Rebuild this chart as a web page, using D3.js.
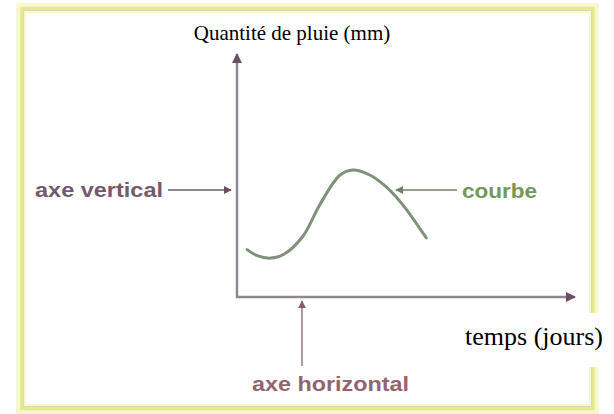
<!DOCTYPE html>
<html>
<head>
<meta charset="utf-8">
<script src="https://cdn.jsdelivr.net/npm/d3@7"></script>
<style>
  body { margin: 0; background: #fff; }
</style>
</head>
<body>
<div id="viz"></div>
<script>
// sizes
var width = 614;
var height = 414;

// the curve (days, rain in mm), no units on the axes
var days = [3, 6, 10, 14, 19.5, 24.5, 30.5, 34.3, 39.3, 44.4, 49, 56];
var rain = [19.5, 17, 16, 17.7, 25, 38, 50.2, 52.3, 50.2, 45, 38, 24.3];

var yTitle = "Quantité de pluie (mm)";
var xTitle = "temps (jours)";
var labels = ["axe vertical", "courbe", "axe horizontal"];

var serif = '"Liberation Serif", "Times New Roman", serif';
var sans = '"Liberation Sans", Arial, sans-serif';

var svg = d3.select("#viz")
    .append("svg")
    .attr("width", width)
    .attr("height", height);

// yellow frame
svg.append("rect")
    .attr("x", 21).attr("y", 8).attr("width", 573).attr("height", 401)
    .attr("fill", "none").attr("stroke", "#f7f8d2").attr("stroke-width", 10);
svg.append("rect")
    .attr("x", 22).attr("y", 8.5).attr("width", 571).attr("height", 400)
    .attr("fill", "none").attr("stroke", "#e6ea8a").attr("stroke-width", 3.5);
svg.append("rect")
    .attr("x", 23.5).attr("y", 10.5).attr("width", 568).attr("height", 396)
    .attr("fill", "none").attr("stroke", "#d9dbb0").attr("stroke-width", 1);

var x = d3.scaleLinear().domain([0, 100]).range([237, 575]);
var y = d3.scaleLinear().domain([0, 100]).range([297, 54]);

var defs = svg.append("defs");
function marker(id, color) {
    defs.append("marker")
        .attr("id", id)
        .attr("viewBox", "0 0 10 10")
        .attr("refX", 9).attr("refY", 5)
        .attr("markerWidth", 4).attr("markerHeight", 4)
        .attr("orient", "auto")
        .append("path")
        .attr("d", "M0,0 L10,5 L0,10 Z")
        .attr("fill", color);
}
marker("head", "#6b5064");
marker("headGreen", "#6f7f66");
marker("headPink", "#8a5b6b");

// axes (plain arrows, no ticks)
svg.append("line")
    .attr("x1", x(0)).attr("y1", y(0) + 1)
    .attr("x2", x(0)).attr("y2", y(100))
    .attr("stroke", "#8c8790").attr("stroke-width", 2.5)
    .attr("marker-end", "url(#head)");
svg.append("line")
    .attr("x1", x(0) - 1).attr("y1", y(0))
    .attr("x2", x(100)).attr("y2", y(0))
    .attr("stroke", "#8c8790").attr("stroke-width", 2.5)
    .attr("marker-end", "url(#head)");

// the curve
var line = d3.line()
    .x(function(d, i) { return x(days[i]); })
    .y(function(d) { return y(d); })
    .curve(d3.curveCatmullRom);

svg.append("path")
    .datum(rain)
    .attr("d", line)
    .attr("fill", "none")
    .attr("stroke", "#7f917b")
    .attr("stroke-width", 3)
    .attr("stroke-linecap", "round");

// annotation: axe vertical
svg.append("line")
    .attr("x1", 168).attr("y1", 190)
    .attr("x2", x(0) - 6).attr("y2", 190)
    .attr("stroke", "#8e8690").attr("stroke-width", 2)
    .attr("marker-end", "url(#head)");
svg.append("text")
    .attr("x", 35).attr("y", 197)
    .attr("textLength", 128).attr("lengthAdjust", "spacingAndGlyphs")
    .style("font-family", sans)
    .style("font-size", "20px")
    .style("font-weight", "bold")
    .style("fill", "#75596f")
    .text(labels[0]);

// annotation: courbe
svg.append("line")
    .attr("x1", 457).attr("y1", 190)
    .attr("x2", 396).attr("y2", 190)
    .attr("stroke", "#959f8e").attr("stroke-width", 2)
    .attr("marker-end", "url(#headGreen)");
svg.append("text")
    .attr("x", 462).attr("y", 198)
    .attr("textLength", 75).attr("lengthAdjust", "spacingAndGlyphs")
    .style("font-family", sans)
    .style("font-size", "20px")
    .style("font-weight", "bold")
    .style("fill", "#74985c")
    .text(labels[1]);

// annotation: axe horizontal
svg.append("line")
    .attr("x1", 302).attr("y1", 366)
    .attr("x2", 302).attr("y2", y(0) + 4)
    .attr("stroke", "#ab979f").attr("stroke-width", 2)
    .attr("marker-end", "url(#headPink)");
svg.append("text")
    .attr("x", 252).attr("y", 391)
    .attr("textLength", 157).attr("lengthAdjust", "spacingAndGlyphs")
    .style("font-family", sans)
    .style("font-size", "20px")
    .style("font-weight", "bold")
    .style("fill", "#93646f")
    .text(labels[2]);

// axis titles on white boxes
svg.append("rect")
    .attr("x", 158).attr("y", 14).attr("width", 214).attr("height", 34)
    .attr("fill", "#fff");
svg.append("text")
    .attr("x", 292).attr("y", 40)
    .attr("text-anchor", "middle")
    .style("font-family", serif)
    .style("font-size", "21px")
    .style("fill", "#000")
    .text(yTitle);

svg.append("rect")
    .attr("x", 380).attr("y", 313).attr("width", 234).attr("height", 54)
    .attr("fill", "#fff");
svg.append("text")
    .attr("x", 603).attr("y", 345)
    .attr("text-anchor", "end")
    .style("font-family", serif)
    .style("font-size", "26px")
    .style("fill", "#000")
    .text(xTitle);
</script>
</body>
</html>
